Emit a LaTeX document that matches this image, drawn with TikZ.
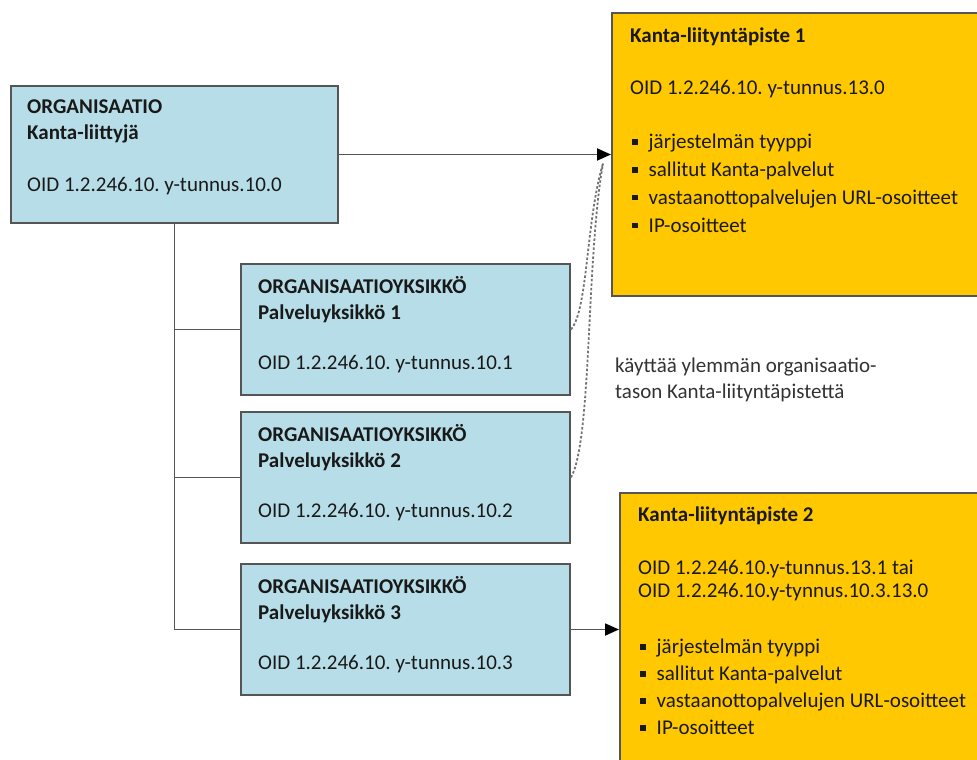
\documentclass[tikz,border=0pt]{standalone}
\usepackage{fontspec}
\setmainfont{Carlito}
\usetikzlibrary{arrows.meta,positioning}
\definecolor{orgblue}{HTML}{B7DEE8}
\definecolor{kantayellow}{HTML}{FFC800}
\definecolor{boxline}{HTML}{555555}
\newcommand{\blt}{\hspace*{2pt}\rule[4pt]{5.5pt}{5.5pt}\hspace{11pt}}
\frenchspacing
\tikzset{
  orgbox/.style={draw=boxline, line width=2pt, fill=orgblue, anchor=north west,
    inner sep=0pt, minimum width=329pt, minimum height=131pt},
  kantabox/.style={draw=boxline, line width=2pt, fill=kantayellow, anchor=north west,
    inner sep=0pt},
  boxtext/.style={anchor=north west, inner sep=0pt, align=left,
    font=\fontsize{21}{26}\selectfont, text=black!90},
  link/.style={draw=boxline, line width=1.8pt},
  pointer/.style={link, -{Triangle[length=14pt,width=12pt,color=black]}},
  uses/.style={draw=black!55, line width=1.8pt, dash pattern=on 2.5pt off 2pt}
}
\begin{document}
\begin{tikzpicture}[x=1pt,y=-1pt]
  \useasboundingbox[fill=white] (0,0) rectangle (977,760);
  \clip (0,0) rectangle (977,760);
  % boxes
  \node[orgbox, minimum width=327pt, minimum height=137pt] (org) at (10,85) {};
  \node[orgbox] (yk1) at (240,263) {};
  \node[orgbox] (yk2) at (240,411) {};
  \node[orgbox] (yk3) at (240,563) {};
  \node[kantabox, minimum width=390pt, minimum height=283pt] (klp1) at (611,12) {};
  \node[kantabox, minimum width=390pt, minimum height=290pt] (klp2) at (619,492) {};
  % texts
  \node[boxtext] (orgtxt) at ([shift={(17,10.5)}]org.north west)
    {\strut\textbf{ORGANISAATIO}\\ \textbf{Kanta-liittyjä}\\[26pt]
     OID 1.2.246.10. y-tunnus.10.0};
  \node[boxtext] (yk1txt) at ([shift={(18,12.5)}]yk1.north west)
    {\strut\textbf{ORGANISAATIOYKSIKKÖ}\\ \textbf{Palveluyksikkö 1}\\[24pt]
     OID 1.2.246.10. y-tunnus.10.1};
  \node[boxtext] (yk2txt) at ([shift={(18,12.5)}]yk2.north west)
    {\strut\textbf{ORGANISAATIOYKSIKKÖ}\\ \textbf{Palveluyksikkö 2}\\[24pt]
     OID 1.2.246.10. y-tunnus.10.2};
  \node[boxtext] (yk3txt) at ([shift={(18,12.5)}]yk3.north west)
    {\strut\textbf{ORGANISAATIOYKSIKKÖ}\\ \textbf{Palveluyksikkö 3}\\[24pt]
     OID 1.2.246.10. y-tunnus.10.3};
  \node[boxtext] (klp1txt) at ([shift={(19,12.5)}]klp1.north west)
    {\strut\textbf{Kanta-liityntäpiste 1}\\[26pt]
     OID 1.2.246.10. y-tunnus.13.0\\[28pt]
     \blt järjestelmän tyyppi\\[1.7pt]
     \blt sallitut Kanta-palvelut\\[1.7pt]
     \blt vastaanottopalvelujen URL-osoitteet\\[1.7pt]
     \blt IP-osoitteet};
  \node[boxtext] (klp2txt) at ([shift={(19,11.5)}]klp2.north west)
    {\strut\textbf{Kanta-liityntäpiste 2}\\[27pt]
     OID 1.2.246.10.y-tunnus.13.1 tai\\[-3pt]
     OID 1.2.246.10.y-tynnus.10.3.13.0\\[30pt]
     \blt järjestelmän tyyppi\\[1pt]
     \blt sallitut Kanta-palvelut\\[1pt]
     \blt vastaanottopalvelujen URL-osoitteet\\[1pt]
     \blt IP-osoitteet};
  \node[boxtext, text=black!80] (note) at (615,354)
    {\strut käyttää ylemmän organisaatio-\\ tason Kanta-liityntäpistettä};
  % connectors
  \coordinate (useend) at ([shift={(-8,9)}]klp1.west);
  \draw[link] (org.south) |- (yk3.west);
  \draw[link] (org.south |- yk1.west) -- (yk1.west);
  \draw[link] (org.south |- yk2.west) -- (yk2.west);
  \draw[pointer] (org.east) -- (org.east -| klp1.west);
  \draw[pointer] (yk3.east) -- (yk3.east -| klp2.west);
  \draw[uses] (yk1.east) .. controls (588,310) and (586,220) .. (useend);
  \draw[uses] (yk2.east) .. controls (592,440) and (586,260) .. (useend);
\end{tikzpicture}
\end{document}
